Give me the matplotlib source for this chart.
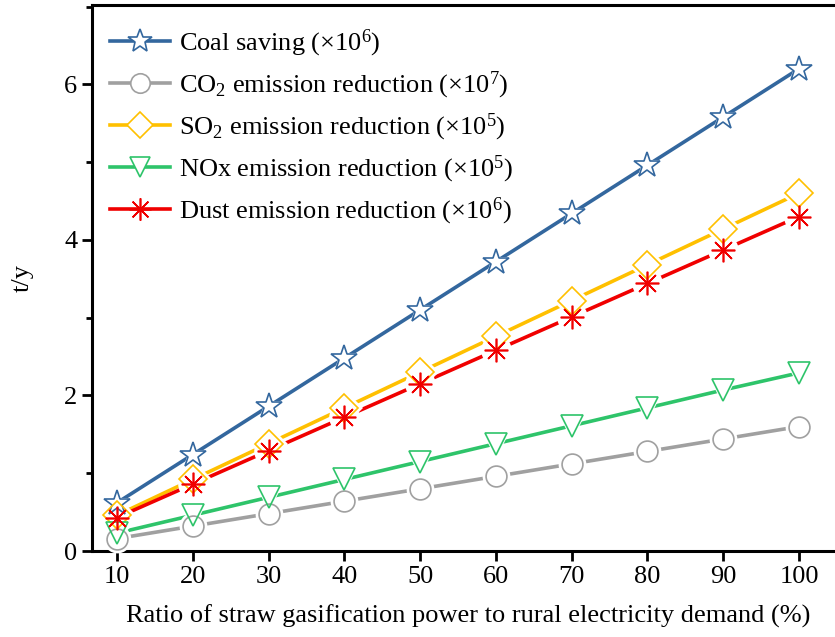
import matplotlib
matplotlib.use("Agg")
import matplotlib.pyplot as plt
from matplotlib.ticker import MultipleLocator
from matplotlib.lines import Line2D

plt.rcParams['font.family'] = ['Liberation Serif', 'DejaVu Serif']
plt.rcParams['mathtext.fontset'] = 'custom'
plt.rcParams['mathtext.rm'] = 'Liberation Serif'
plt.rcParams['mathtext.it'] = 'Liberation Serif:italic'

ratio = [10, 20, 30, 40, 50, 60, 70, 80, 90, 100]
coal = [0.62, 1.24, 1.86, 2.48, 3.10, 3.72, 4.34, 4.96, 5.58, 6.20]
co2 = [0.16, 0.32, 0.48, 0.64, 0.80, 0.96, 1.12, 1.28, 1.44, 1.60]
so2 = [0.46, 0.92, 1.38, 1.84, 2.30, 2.76, 3.22, 3.68, 4.14, 4.60]
nox = [0.23, 0.46, 0.69, 0.92, 1.15, 1.38, 1.61, 1.84, 2.07, 2.29]
dust = [0.43, 0.86, 1.29, 1.72, 2.15, 2.58, 3.01, 3.44, 3.87, 4.30]

labels = ["Coal saving (\u00d710$^{6}$)",
          "CO$_{2}$ emission reduction (\u00d710$^{7}$)",
          "SO$_{2}$ emission reduction (\u00d710$^{5}$)",
          "NOx emission reduction (\u00d710$^{5}$)",
          "Dust emission reduction (\u00d710$^{6}$)"]
series = [coal, co2, so2, nox, dust]
colors = ['#33679E', '#A0A0A0', '#FFC000', '#2EC46A', '#F00000']
markers = ['*', 'o', 'D', 'v', (8, 2, 0)]
msizes = [19, 15, 14, 16, 17]

fig = plt.figure(figsize=(8.35, 6.37), dpi=100)
ax = fig.add_axes([92/835, 1-551/637, (845-92)/835, (551-5)/637])

handles = []
for i, (ys, c, m, ms, lab) in enumerate(zip(series, colors, markers, msizes, labels)):
    ax.plot(ratio, ys, color=c, lw=2.6, zorder=2 + i * 0.1, clip_on=False, solid_capstyle='butt')
    ax.plot(ratio, ys, ls='none', marker=m if m != (8, 2, 0) else 'o', ms=ms + 5,
            mfc='white', mec='white', mew=0, zorder=3, clip_on=False)
    ax.plot(ratio, ys, ls='none', marker=m, ms=ms, mfc='none', mec=c,
            mew=1.2, zorder=4 + i * 0.1, clip_on=False)
    handles.append(Line2D([], [], color=c, lw=2.6, marker=m, ms=ms - 1,
                          mfc='white', mec=c, mew=1.2))

ax.set_xlim(6.7, 106.07)
ax.set_ylim(0, 7.02)
ax.set_xticks(ratio)
ax.yaxis.set_major_locator(MultipleLocator(2))
ax.yaxis.set_minor_locator(MultipleLocator(1))
ax.tick_params(axis='both', which='major', direction='out', length=7, width=2, labelsize=19)
ax.tick_params(axis='y', which='minor', direction='out', length=4, width=2)
for s in ['left', 'bottom', 'top']:
    ax.spines[s].set_linewidth(2.2)
ax.spines['right'].set_visible(False)

ax.set_xlabel("Ratio of straw gasification power to rural electricity demand (%)", fontsize=19, labelpad=12)
ax.set_ylabel("t/y", fontsize=19, labelpad=22)

leg = ax.legend(handles, labels, loc='upper left', frameon=False, fontsize=19, handlelength=2.25,
                borderaxespad=0.3, labelspacing=0.40, handletextpad=0.35,
                bbox_to_anchor=(0.0, 0.992))

fig.savefig("out.png", dpi=100)
